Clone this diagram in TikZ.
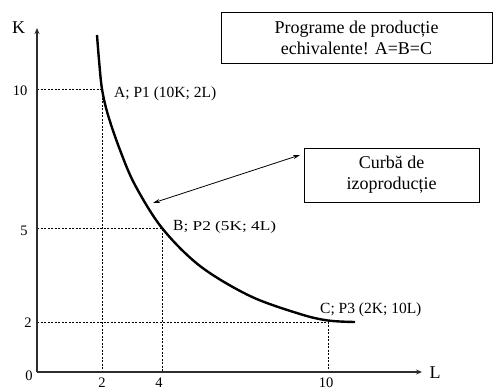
\documentclass[tikz,border=0pt]{standalone}
\usepackage{fontspec}
\setmainfont{Liberation Serif}
\usepackage{xcolor}
\usepackage{graphicx}
\definecolor{Black}{RGB}{0,0,0}
\definecolor{Axis}{RGB}{45,45,45}
\definecolor{White}{RGB}{255,255,255}
\newcommand{\bigfont}   {\fontsize{18}{21}\selectfont}
\newcommand{\tickfont}  {\fontsize{14.5}{16}\selectfont}
\newcommand{\smallpart}[1]{\scalebox{1.28}[1]{\fontsize{13.5}{15}\selectfont #1}}
\usepackage{tikz}
\usetikzlibrary{arrows.meta}

\tikzset{
	axis/.style={draw=Axis, line width=1.3pt, -{Stealth[length=6pt, width=5pt]}},
	guide/.style={draw=Black, line width=0.8pt, dash pattern=on 2.2pt off 1.3pt},
	isoquant/.style={draw=Black, line width=2.4pt},
	pointer/.style={draw=Black, line width=0.8pt, {Stealth[length=7pt, width=4pt]}-{Stealth[length=7pt, width=4pt]}},
	textbox/.style={draw=Black, fill=White, line width=1pt, align=center, font=\bigfont},
	ticklabel/.style={inner sep=0pt, anchor=base, font=\tickfont},
	pointlabel/.style={inner sep=0pt, anchor=base west, font=\fontsize{15.5}{18}\selectfont}
}

\begin{document}
\begin{tikzpicture}[x=1pt, y=-1pt]
		
		\useasboundingbox (0,0) rectangle (493,391);
		
		% Points
		\coordinate (O) at (37,372);
		\coordinate (Ktop) at (37,28);
		\coordinate (Lend) at (422,372);
		\coordinate (A) at (102,89);
		\coordinate (B) at (162,228);
		\coordinate (C) at (328,322);
		
		% Guides
		\draw[guide] (O |- A) -- (A) -- (A |- O);
		\draw[guide] (O |- B) -- (B) -- (B |- O);
		\draw[guide] (O |- C) -- (C) -- (C |- O);
		
		% Axes
		\draw[axis] (O) -- (Ktop);
		\draw[axis] (O) -- (Lend);
		
		% Curve
		\draw[isoquant] plot[smooth, tension=0.55] coordinates {(97,35) (99,60) (102,89) (108,115) (120,150) (135,185) (162,228) (200,266) (250,296) (300,314) (328,320.5) (355,322)};
		
		% Text
		\node[inner sep=0pt, anchor=base, font=\bigfont] (Klab) at (18.5,33) {K};
		\node[inner sep=0pt, anchor=base, font=\bigfont] (Llab) at (435,378) {L};
		
		\node[ticklabel] (k10) at (20,95) {10};
		\node[ticklabel] (k5) at (24,235) {5};
		\node[ticklabel] (k2) at (28,327) {2};
		\node[ticklabel] (k0) at (29,380) {0};
		
		\node[ticklabel] (l2) at (102,387) {2};
		\node[ticklabel] (l4) at (159,387) {4};
		\node[ticklabel] (l10) at (326,387) {10};
		
		\node[pointlabel] (labA) at (114,97) {A; P1 (10K; 2L)};
		\node[pointlabel] (labB) at (173,230) {B\smallpart{; P2 (5K; 4L)}};
		\node[pointlabel] (labC) at (320,313) {C; P3 (2K; 10L)};
		
		% Boxes
		\node[textbox, minimum width=271pt, minimum height=51pt] (progbox) at (356.5,37.5) {Programe de producție\\echivalente! A=B=C};
		\node[textbox, minimum width=175pt, minimum height=54pt] (isobox) at (391.5,175) {Curbă de\\izoproducție};
		
		% Pointer
		\coordinate (oncurve) at (153,203);
		\coordinate (tobox) at (300,155);
		\draw[pointer] (oncurve) -- (tobox);
		
	\end{tikzpicture}
\end{document}
